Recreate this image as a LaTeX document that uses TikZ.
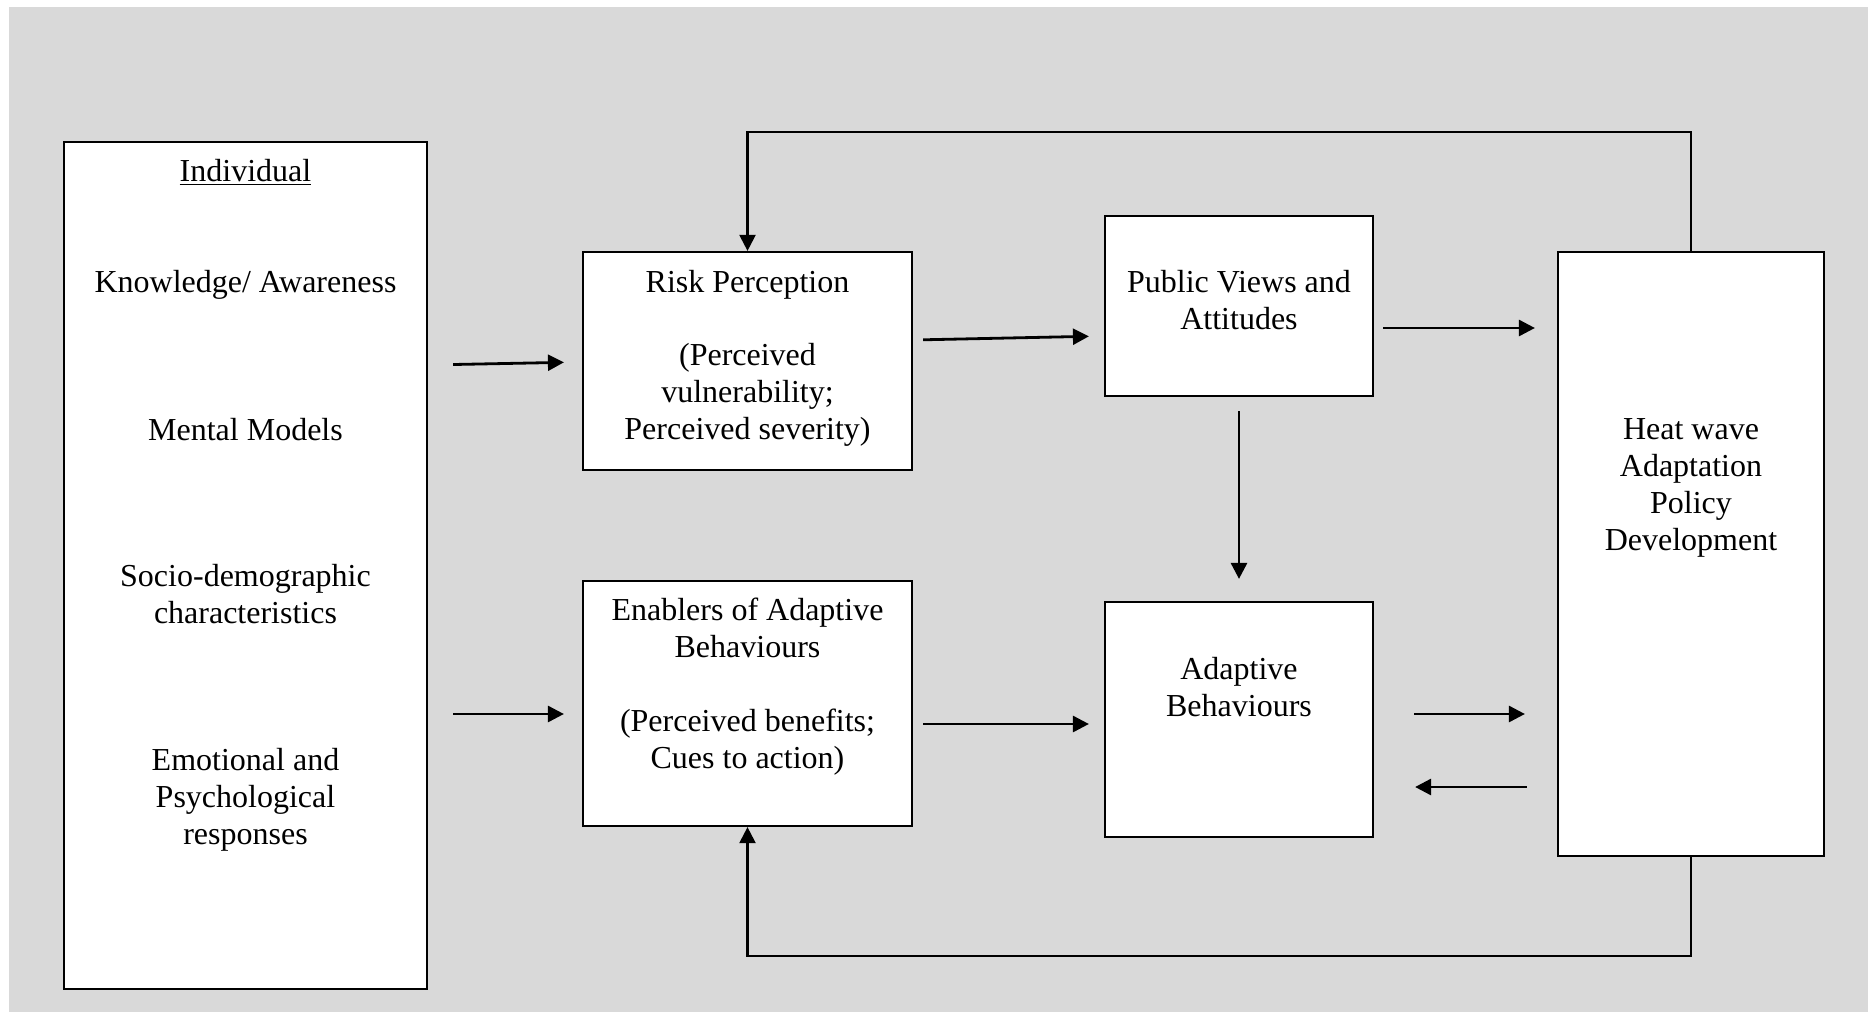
\documentclass[tikz,border=0pt]{standalone}
\usepackage{fontspec}
\setmainfont{Liberation Serif}
\usetikzlibrary{arrows.meta,fit}
\definecolor{canvas}{HTML}{D9D9D9}
\begin{document}
\begin{tikzpicture}[x=0.5pt,y=-0.5pt,
  box/.style={draw, fill=white, line width=1.1pt, inner sep=0pt},
  txt/.style={align=center, font=\fontsize{16}{18.5}\selectfont, inner sep=0pt},
  arr/.style={line width=1.4pt, -{Triangle[length=8pt,width=8pt]}},
  loopline/.style={line width=1.1pt}]
\useasboundingbox (0,0) rectangle (1868,1012);
\fill[canvas] (9,7) rectangle (1868,1012);

% boxes
\node[box, fit={(64,142)(427,989)}] (ind) {};
\node[box, fit={(583,252)(912,470)}] (risk) {};
\node[box, fit={(583,581)(912,826)}] (enab) {};
\node[box, fit={(1105,216)(1373,396)}] (pub) {};
\node[box, fit={(1105,602)(1373,837)}] (adap) {};
\node[box, fit={(1558,252)(1824,856)}] (heat) {};

% texts
\node[txt] (indtitle) at (245.5,174) {\strut\underline{Individual}};
\node[txt] (know) at (245.5,284.6) {\strut Knowledge/ Awareness};
\node[txt] (mental) at (245.5,432.6) {\strut Mental Models};
\node[txt] (socio) at (245.5,597.9) {\strut Socio-demographic\\characteristics\strut};
\node[txt] (emo) at (245.5,800.1) {\strut Emotional and\\Psychological\\responses\strut};

\node[txt] (risktitle) at (747.5,284.6) {\strut Risk Perception};
\node[txt] (risksub) at (747.5,395.1) {\strut(Perceived\\vulnerability;\\Perceived severity)\strut};
\node[txt] (enabtitle) at (747.5,631.1) {\strut Enablers of Adaptive\\Behaviours\strut};
\node[txt] (enabsub) at (747.5,742.1) {\strut(Perceived benefits;\\Cues to action)\strut};

\node[txt] (pubtext) at (1239,303.1) {\strut Public Views and\\Attitudes\strut};
\node[txt] (adaptext) at (1239,690.6) {\strut Adaptive\\Behaviours\strut};
\node[txt] (heattext) at (1691,487.9) {\strut Heat wave\\Adaptation\\Policy\\Development\strut};

% connectors
\draw[arr, shorten <=12.5pt, shorten >=9pt] (ind.east |- 0,365) -- (risk.west |- 0,362);
\draw[arr, shorten <=12.5pt, shorten >=9pt] (ind.east |- 0,714) -- (enab.west |- 0,714);
\draw[arr, shorten <=5pt, shorten >=7.5pt] (risk.east |- 0,340) -- (pub.west |- 0,336);
\draw[arr, shorten <=5pt, shorten >=7.5pt] (enab.east |- 0,724) -- (adap.west |- 0,724);
\draw[arr, shorten <=4.5pt, shorten >=11pt] (pub.east |- 0,328) -- (heat.west |- 0,328);
\draw[arr, shorten <=7pt, shorten >=11pt] (pub.south) -- (adap.north);
\draw[arr, shorten <=20pt, shorten >=16pt] (adap.east |- 0,714) -- (heat.west |- 0,714);
\draw[arr, shorten <=15pt, shorten >=20.5pt] (heat.west |- 0,787) -- (adap.east |- 0,787);

% feedback loops
\draw[arr, line width=1.1pt] (heat.north) -- (heat.north |- 0,132) -| (risk.north);
\draw[arr, line width=1.1pt] (heat.south) -- (heat.south |- 0,956) -| (enab.south);
\end{tikzpicture}
\end{document}
